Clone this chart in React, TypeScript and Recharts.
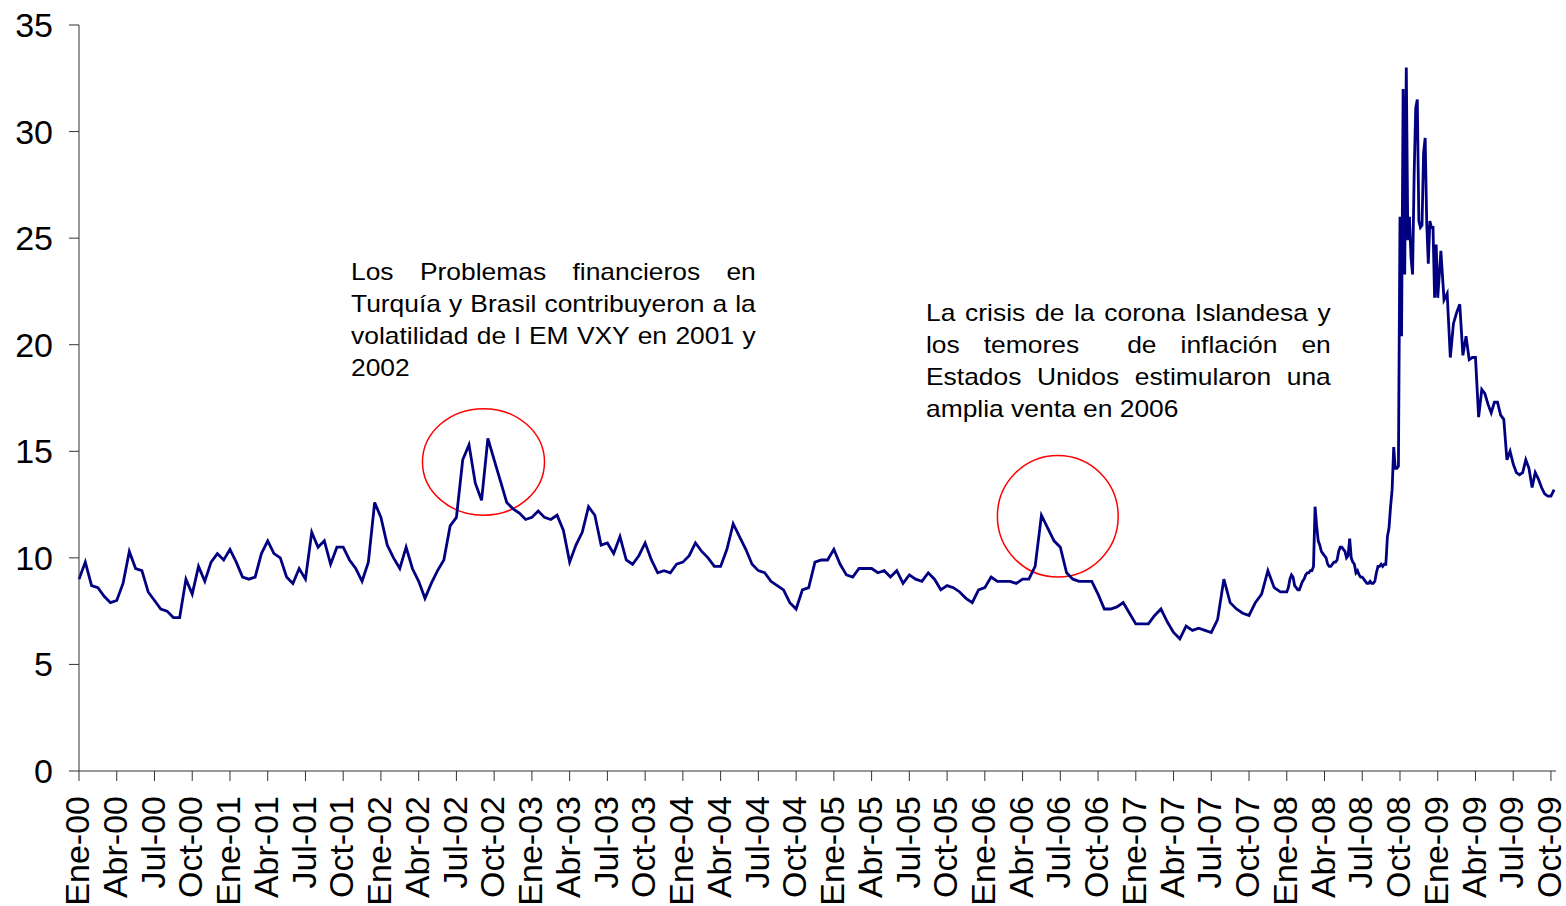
import React from 'react';
import { LineChart, Line, XAxis, YAxis, ReferenceArea } from 'recharts';

// EM VXY, half-monthly readings (2008 at 8 per month, 2009 at 4 per month)
const vxy2000 = [9.0, 9.8, 8.7, 8.6, 8.2, 7.9, 8.0, 8.8, 10.3, 9.5, 9.4, 8.4, 8.0, 7.6, 7.5, 7.2, 7.2, 9.0, 8.3, 9.6, 8.9, 9.8, 10.2, 9.9];
const vxy2001 = [10.4, 9.8, 9.1, 9.0, 9.1, 10.2, 10.8, 10.2, 10.0, 9.1, 8.8, 9.5, 9.0, 11.2, 10.5, 10.8, 9.7, 10.5, 10.5, 9.9, 9.5, 8.9, 9.8, 12.6];
const vxy2002 = [11.9, 10.6, 10.0, 9.5, 10.5, 9.5, 8.9, 8.1, 8.8, 9.4, 9.9, 11.5, 11.9, 14.6, 15.3, 13.5, 12.7, 15.6, 14.6, 13.6, 12.6, 12.3, 12.1, 11.8];
const vxy2003 = [11.9, 12.2, 11.9, 11.8, 12.0, 11.3, 9.8, 10.6, 11.2, 12.4, 12.0, 10.6, 10.7, 10.2, 11.0, 9.9, 9.7, 10.1, 10.7, 9.9, 9.3, 9.4, 9.3, 9.7];
const vxy2004 = [9.8, 10.1, 10.7, 10.3, 10.0, 9.6, 9.6, 10.4, 11.6, 11.0, 10.4, 9.7, 9.4, 9.3, 8.9, 8.7, 8.5, 7.9, 7.6, 8.5, 8.6, 9.8, 9.9, 9.9];
const vxy2005 = [10.4, 9.7, 9.2, 9.1, 9.5, 9.5, 9.5, 9.3, 9.4, 9.1, 9.4, 8.8, 9.2, 9.0, 8.9, 9.3, 9.0, 8.5, 8.7, 8.6, 8.4, 8.1, 7.9, 8.5];
const vxy2006 = [8.6, 9.1, 8.9, 8.9, 8.9, 8.8, 9.0, 9.0, 9.6, 12.0, 11.4, 10.8, 10.5, 9.3, 9.0, 8.9, 8.9, 8.9, 8.3, 7.6, 7.6, 7.7, 7.9, 7.4];
const vxy2007 = [6.9, 6.9, 6.9, 7.3, 7.6, 7.0, 6.5, 6.2, 6.8, 6.6, 6.7, 6.6, 6.5, 7.1, 9.0, 7.9, 7.6, 7.4, 7.3, 7.9, 8.3, 9.4, 8.6, 8.4];
const vxy2008 = [
  8.4, 8.6, 9.0, 9.2, 9.1, 8.7, 8.6, 8.5,
  8.5, 8.7, 8.9, 9.0, 9.2, 9.3, 9.3, 9.4,
  9.4, 9.6, 12.4, 11.5, 10.8, 10.6, 10.3, 10.2,
  10.1, 10.0, 9.7, 9.6, 9.6, 9.7, 9.8, 9.8,
  9.9, 10.3, 10.5, 10.5, 10.4, 10.3, 10.0, 10.1,
  10.9, 10.0, 9.8, 9.7, 9.3, 9.4, 9.2, 9.1,
  9.1, 9.0, 8.9, 8.8, 8.8, 8.9, 8.8, 8.8,
  8.9, 9.3, 9.6, 9.6, 9.7, 9.6, 9.7, 9.7,
  11.0, 11.4, 12.4, 13.2, 15.2, 14.2, 14.2, 14.3,
  26.0, 20.4, 32.0, 23.3, 33.0, 24.9, 26.0, 24.1,
  23.3, 28.0, 31.1, 31.5, 25.8, 25.5, 25.6, 29.0,
  29.7, 25.7, 23.8, 25.8, 25.5, 25.5, 22.2, 24.7,
];
const vxy2009 = [
  22.2, 24.4, 22.1, 22.4, 19.4, 21.0, 21.5, 21.9, 19.5, 20.4, 19.3, 19.4,
  19.4, 16.6, 17.9, 17.7, 17.2, 16.8, 17.3, 17.3, 16.7, 16.5, 14.6, 15.0,
  14.4, 14.0, 13.9, 14.0, 14.6, 14.2, 13.3, 14.0, 13.7, 13.3, 13.0, 12.9,
  12.9, 13.2,
];

const yearSeries = [vxy2000, vxy2001, vxy2002, vxy2003, vxy2004, vxy2005, vxy2006, vxy2007, vxy2008, vxy2009];
const pointsPerMonth = [2, 2, 2, 2, 2, 2, 2, 2, 8, 4];

const quarterNames = ['Ene', 'Abr', 'Jul', 'Oct'];
const yearLabels = ['00', '01', '02', '03', '04', '05', '06', '07', '08', '09'];
const yTicks = [0, 5, 10, 15, 20, 25, 30, 35];

const note1 = [
  'Los Problemas financieros en',
  'Turquía y Brasil contribuyeron a la',
  'volatilidad de l EM VXY en 2001 y',
  '2002',
];
const note2 = [
  'La crisis de la corona Islandesa y',
  'los temores  de inflación en',
  'Estados Unidos estimularon una',
  'amplia venta en 2006',
];

// x is months since Ene-00
const data = yearSeries.flatMap((vals, k) =>
  vals.map((v, i) => ({ m: k * 12 + i / pointsPerMonth[k], v }))
);
const xTicks = yearLabels.flatMap((_, k) => quarterNames.map((_, q) => k * 12 + q * 3));
const tickLabel = (m: number) => {
  const k = Math.floor(m / 12);
  const q = Math.round((m - k * 12) / 3);
  return `${quarterNames[q]}-${yearLabels[k]}`;
};

const FONT = '"Liberation Sans", Arial, sans-serif';

const QuarterTick = (props: any) => {
  const { x, y, payload } = props;
  return (
    <text
      x={x}
      y={y}
      transform={`rotate(-90, ${x}, ${y})`}
      textAnchor="end"
      dy="0.3em"
      fontSize={34}
      fontFamily={FONT}
      fill="#000"
    >
      {tickLabel(payload.value)}
    </text>
  );
};

const Ellipse = (p: any) => (
  <ellipse
    cx={p.x + p.width / 2}
    cy={p.y + p.height / 2}
    rx={Math.abs(p.width) / 2}
    ry={Math.abs(p.height) / 2}
    fill="none"
    stroke="#ff0000"
    strokeWidth={1.5}
  />
);

const Note = ({ lines, left, top }: { lines: string[]; left: number; top: number }) => (
  <div
    style={{
      position: 'absolute',
      left,
      top,
      width: 368,
      transform: 'scaleX(1.1)',
      transformOrigin: '0 0',
      fontFamily: FONT,
      fontSize: 24,
      lineHeight: '32px',
      color: '#000',
    }}
  >
    {lines.map((l, i) => (
      <div
        key={i}
        style={{
          whiteSpace: 'pre-wrap',
          textAlign: 'justify',
          textAlignLast: i === lines.length - 1 ? 'left' : 'justify',
        }}
      >
        {l}
      </div>
    ))}
  </div>
);

export default function App() {
  return (
    <div style={{ position: 'absolute', left: 0, top: 0, width: 1566, height: 906, background: '#fff', overflow: 'hidden' }}>
      <LineChart width={1566} height={906} data={data} margin={{ top: 25, right: 10, left: 0, bottom: 0 }}>
        <XAxis
          dataKey="m"
          type="number"
          domain={[0, 117.4]}
          ticks={xTicks}
          interval={0}
          height={135}
          tickSize={10}
          tickMargin={15}
          tick={<QuarterTick />}
          stroke="#333"
        />
        <YAxis
          type="number"
          domain={[0, 35]}
          ticks={yTicks}
          width={79}
          tickSize={10}
          tickMargin={16}
          stroke="#333"
          tick={{ fontSize: 34, fontFamily: FONT, fill: '#000' }}
        />
        <ReferenceArea x1={27.3} x2={37.0} y1={12.0} y2={17.0} shape={<Ellipse />} />
        <ReferenceArea x1={73.0} x2={82.6} y1={9.1} y2={14.8} shape={<Ellipse />} />
        <Line
          type="linear"
          dataKey="v"
          stroke="#000080"
          strokeWidth={2.8}
          dot={false}
          isAnimationActive={false}
        />
      </LineChart>
      <Note lines={note1} left={351} top={256} />
      <Note lines={note2} left={926} top={297} />
    </div>
  );
}
